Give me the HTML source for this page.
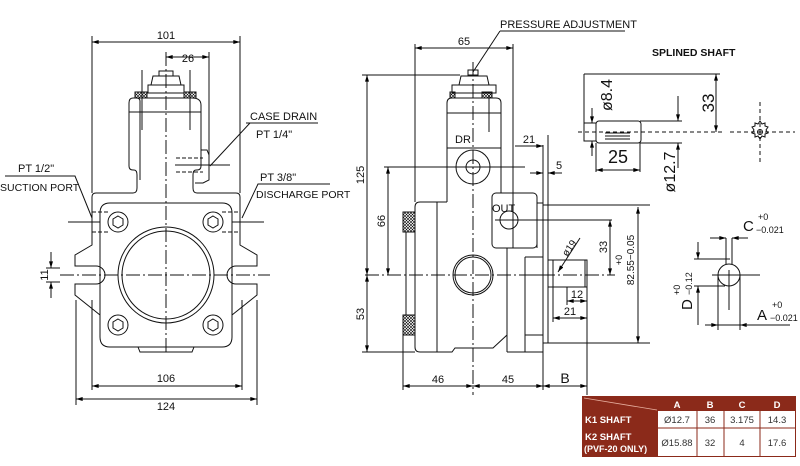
<!DOCTYPE html>
<html><head><meta charset="utf-8"><style>
html,body{margin:0;padding:0;background:#fff;}
svg{display:block;font-family:"Liberation Sans",sans-serif;}
</style></head><body>
<svg width="800" height="466" viewBox="0 0 800 466" xmlns="http://www.w3.org/2000/svg">
<defs>
<marker id="a" viewBox="0 0 10 6" refX="10" refY="3" markerWidth="7" markerHeight="4" orient="auto-start-reverse"><path d="M0,0L10,3L0,6z" fill="#000"/></marker>
<pattern id="kn" width="3" height="3" patternUnits="userSpaceOnUse"><path d="M0,0L3,3M3,0L0,3" stroke="#000" stroke-width="0.6"/></pattern>
</defs>
<g fill="none" stroke="#111" stroke-width="1">
<!-- LEFT VIEW -->
<line x1="92" y1="36" x2="92" y2="193"/><line x1="240" y1="36" x2="240" y2="193"/>
<line x1="92" y1="42" x2="240" y2="42" marker-start="url(#a)" marker-end="url(#a)"/>
<line x1="209" y1="52" x2="209" y2="180"/>
<line x1="166" y1="57" x2="209" y2="57" marker-start="url(#a)" marker-end="url(#a)"/>
<line x1="166" y1="52" x2="166" y2="353" stroke-dasharray="14,3,2,3"/>
<rect x="159" y="71" width="14" height="5"/>
<path d="M151,85 L153,76 L179,76 L181,85 Z"/>
<rect x="148" y="85" width="36" height="8"/>
<rect x="135" y="92" width="12" height="6" fill="url(#kn)"/>
<rect x="184" y="92" width="12" height="6" fill="url(#kn)"/>
<path d="M140,180 L140,101 Q140,98 136,98 L133,98 Q129,98 129,103 L129,166 Q129,170 133,170 L134,170 Q137,170 137,175 L137,188 Q137,193 133,193 L96,193 Q92,193 92,197 L92,245 L75,255 L75,266 L96,266 A9,9 0 0 1 96,284 L75,284 L75,295 L100,315"/>
<path d="M140,98 L192,98 Q201,98 201,105 L201,166 Q201,170 197,170 L196,170 Q193,170 193,175 L193,188 Q193,193 197,193 L236,193 Q240,193 240,197 L240,245 L257,255 L257,266 L236,266 A9,9 0 0 0 236,284 L257,284 L257,295 L232,315"/>
<line x1="129" y1="112" x2="201" y2="112"/>
<line x1="142" y1="70" x2="142" y2="130"/><line x1="190" y1="70" x2="190" y2="130"/>
<path d="M201,150 L207,150 L209,155 L209,180 L203,183 L195,183"/>
<line x1="175" y1="165" x2="230" y2="165"/>
<path d="M110,203 L222,203 Q232,203 232,213 L232,337 Q232,347 222,347 L110,347 Q100,347 100,337 L100,213 Q100,203 110,203 Z"/>
<path d="M138,347 L140,352 L192,352 L194,347"/>
<circle cx="166" cy="275" r="48"/><circle cx="166" cy="275" r="44"/>
<line x1="60" y1="275" x2="270" y2="275" stroke-dasharray="14,3,2,3"/>
<line x1="68" y1="222" x2="100" y2="222"/><line x1="232" y1="222" x2="264" y2="222"/>
<g stroke-dasharray="4,2"><line x1="92" y1="212" x2="110" y2="212"/><line x1="92" y1="232" x2="110" y2="232"/><line x1="222" y1="212" x2="240" y2="212"/><line x1="222" y1="232" x2="240" y2="232"/><line x1="176" y1="158" x2="203" y2="158"/><line x1="176" y1="172" x2="203" y2="172"/></g>
<g>
<circle cx="118" cy="222" r="10"/><path d="M118,216 L123,219 L123,225 L118,228 L113,225 L113,219Z"/>
<circle cx="213" cy="222" r="10"/><path d="M213,216 L218,219 L218,225 L213,228 L208,225 L208,219Z"/>
<circle cx="118" cy="325" r="10"/><path d="M118,319 L123,322 L123,328 L118,331 L113,328 L113,322Z"/>
<circle cx="213" cy="325" r="10"/><path d="M213,319 L218,322 L218,328 L213,331 L208,328 L208,322Z"/>
</g>
<line x1="92" y1="300" x2="92" y2="390"/><line x1="242" y1="300" x2="242" y2="390"/>
<line x1="76" y1="300" x2="76" y2="405"/><line x1="257" y1="300" x2="257" y2="405"/>
<line x1="92" y1="386" x2="242" y2="386" marker-start="url(#a)" marker-end="url(#a)"/>
<line x1="76" y1="399" x2="257" y2="399" marker-start="url(#a)" marker-end="url(#a)"/>
<line x1="46" y1="268" x2="60" y2="268"/><line x1="46" y1="282" x2="60" y2="282"/>
<line x1="51" y1="252" x2="51" y2="268" marker-end="url(#a)"/><line x1="51" y1="298" x2="51" y2="282" marker-end="url(#a)"/>
<!-- leaders -->
<path d="M246,123 L318,123 M250,123 L210,166"/>
<path d="M5,176 L75,176 L92,218"/>
<path d="M330,184 L258,184 L242,218"/>
</g>
<g font-size="11" fill="#111" stroke="none">
<text x="166" y="39" text-anchor="middle">101</text>
<text x="188" y="62" text-anchor="middle">26</text>
<text x="250" y="120">CASE  DRAIN</text>
<text x="256" y="138">PT  1/4"</text>
<text x="18" y="172">PT  1/2"</text>
<text x="0" y="191" font-size="10.5">SUCTION  PORT</text>
<text x="260" y="181">PT  3/8"</text>
<text x="256" y="198" font-size="10.5">DISCHARGE  PORT</text>
<text x="166" y="382" text-anchor="middle">106</text>
<text x="166" y="410" text-anchor="middle">124</text>
<text transform="translate(48,275) rotate(-90)" text-anchor="middle">11</text>
</g>

<!-- SIDE VIEW -->
<g fill="none" stroke="#111" stroke-width="1">
<line x1="415" y1="44" x2="415" y2="202"/><line x1="513" y1="44" x2="513" y2="193"/>
<line x1="415" y1="48" x2="513" y2="48" marker-start="url(#a)" marker-end="url(#a)"/>
<path d="M500,31 L625,31 M500,31 L473,72"/>
<rect x="468" y="70" width="10" height="5"/>
<path d="M459,85 L461,76 L487,76 L489,85 Z"/>
<rect x="452" y="85" width="44" height="8"/>
<rect x="450" y="92" width="5" height="6" fill="url(#kn)"/>
<rect x="482" y="92" width="10" height="6" fill="url(#kn)"/>
<path d="M447,202 L447,103 Q447,98 452,98 L496,98 Q501,98 501,103 L501,193"/>
<line x1="447" y1="113" x2="501" y2="113"/>
<line x1="489" y1="95" x2="489" y2="132"/>
<line x1="447" y1="148" x2="501" y2="148"/>
<circle cx="473" cy="167" r="17"/><circle cx="473" cy="167" r="7"/>
<line x1="384" y1="167" x2="525" y2="167"/>
<line x1="473" y1="62" x2="473" y2="395" stroke-dasharray="14,3,2,3"/>
<path d="M420,202 L447,202 M420,202 Q415,202 415,207 L415,347 Q415,352 420,352 L452,352 L455,348 L493,348 L507,335 L507,248"/>
<line x1="437" y1="202" x2="437" y2="352"/>
<rect x="492" y="193" width="45" height="55" rx="4"/>
<line x1="513" y1="193" x2="513" y2="248"/>
<circle cx="509" cy="220" r="9"/>
<line x1="495" y1="220" x2="612" y2="220"/>
<line x1="507" y1="248" x2="507" y2="352"/>
<path d="M507,352 L525,352 M525,257 L525,352 L543,352 L543,257 L525,257"/>
<line x1="525" y1="275" x2="543" y2="275"/><line x1="525" y1="335" x2="543" y2="335"/>
<path d="M537,203 L543,203 L543,343 M537,203 L537,248"/>
<rect x="543" y="205" width="5" height="138"/>
<line x1="548" y1="205" x2="548" y2="135"/>
<line x1="548" y1="205" x2="650" y2="205"/><line x1="548" y1="343" x2="650" y2="343"/>
<path d="M548,260 L587,260 L587,287 L548,287 M553,260 L553,300 M585,260 L585,287"/>
<line x1="567" y1="287" x2="567" y2="305"/>
<line x1="553" y1="300" x2="553" y2="322"/><line x1="587" y1="287" x2="587" y2="395"/>
<circle cx="473" cy="275" r="20"/><circle cx="473" cy="275" r="18"/>
<line x1="365" y1="275" x2="615" y2="275" stroke-dasharray="14,3,2,3"/>
<rect x="403" y="212" width="12" height="20" fill="url(#kn)"/>
<rect x="403" y="315" width="12" height="20" fill="url(#kn)"/>
<line x1="406" y1="232" x2="406" y2="315"/>
<line x1="362" y1="75" x2="460" y2="75"/><line x1="362" y1="352" x2="415" y2="352"/>
<line x1="367" y1="75" x2="367" y2="275" marker-start="url(#a)" marker-end="url(#a)"/>
<line x1="367" y1="275" x2="367" y2="352" marker-start="url(#a)" marker-end="url(#a)"/>
<line x1="388" y1="167" x2="388" y2="275" marker-start="url(#a)" marker-end="url(#a)"/>
<line x1="403" y1="335" x2="403" y2="390"/><line x1="543" y1="352" x2="543" y2="390"/>
<line x1="403" y1="386" x2="473" y2="386" marker-start="url(#a)" marker-end="url(#a)"/>
<line x1="473" y1="386" x2="543" y2="386" marker-start="url(#a)" marker-end="url(#a)"/>
<line x1="543" y1="386" x2="587" y2="386" marker-start="url(#a)" marker-end="url(#a)"/>
<line x1="543" y1="145" x2="543" y2="203"/>
<line x1="515" y1="146" x2="543" y2="146" marker-end="url(#a)"/>
<line x1="530" y1="173" x2="543" y2="173" marker-end="url(#a)"/><line x1="562" y1="173" x2="548" y2="173" marker-end="url(#a)"/>
<line x1="610" y1="220" x2="610" y2="275" marker-start="url(#a)" marker-end="url(#a)"/>
<line x1="638" y1="207" x2="638" y2="343" marker-start="url(#a)" marker-end="url(#a)"/>
<line x1="567" y1="301" x2="587" y2="301" marker-start="url(#a)" marker-end="url(#a)"/>
<line x1="553" y1="318" x2="587" y2="318" marker-start="url(#a)" marker-end="url(#a)"/>
<line x1="580" y1="238" x2="558" y2="272" marker-end="url(#a)"/>
</g>
<g font-size="11" fill="#111" stroke="none">
<text x="500" y="28">PRESSURE  ADJUSTMENT</text>
<text x="464" y="45" text-anchor="middle">65</text>
<text x="455" y="143">DR</text>
<text x="492" y="212">OUT</text>
<text x="529" y="143" text-anchor="middle">21</text>
<text x="556" y="169">5</text>
<text transform="translate(364,175) rotate(-90)" text-anchor="middle">125</text>
<text transform="translate(385,221) rotate(-90)" text-anchor="middle">66</text>
<text transform="translate(364,314) rotate(-90)" text-anchor="middle">53</text>
<text transform="translate(607,247) rotate(-90)" text-anchor="middle">33</text>
<text transform="translate(622,260) rotate(-90)" text-anchor="middle" font-size="9">+0</text>
<text transform="translate(634,260) rotate(-90)" text-anchor="middle" font-size="10">82.55−0.05</text>
<text transform="translate(572,250) rotate(-55)" text-anchor="middle" font-size="10">ø19</text>
<text x="577" y="298" text-anchor="middle">12</text>
<text x="570" y="315" text-anchor="middle">21</text>
<text x="438" y="383" text-anchor="middle">46</text>
<text x="508" y="383" text-anchor="middle">45</text>
<text x="565" y="383" text-anchor="middle" font-size="14">B</text>
</g>

<!-- SPLINED SHAFT -->
<text x="652" y="56" font-size="10.5" font-weight="bold" fill="#111">SPLINED SHAFT</text>
<g fill="none" stroke="#111" stroke-width="1">
<line x1="584" y1="74" x2="720" y2="74"/><line x1="584" y1="74" x2="584" y2="132"/>
<line x1="716" y1="74" x2="716" y2="132" marker-start="url(#a)" marker-end="url(#a)"/>
<rect x="584" y="123" width="12" height="18"/>
<rect x="596" y="121" width="45" height="22" rx="3"/>
<line x1="605" y1="139" x2="630" y2="139"/><line x1="605" y1="136" x2="630" y2="136"/><line x1="605" y1="133" x2="630" y2="133"/>
<line x1="578" y1="132" x2="722" y2="132" stroke-dasharray="4,3"/>
<line x1="640" y1="121" x2="682" y2="121"/><line x1="640" y1="143" x2="682" y2="143"/>
<line x1="678" y1="96" x2="678" y2="121" marker-end="url(#a)"/><line x1="678" y1="168" x2="678" y2="143" marker-end="url(#a)"/>
<line x1="592" y1="108" x2="592" y2="123" marker-end="url(#a)"/><line x1="592" y1="156" x2="592" y2="141" marker-end="url(#a)"/>
<line x1="596" y1="143" x2="596" y2="172"/><line x1="640" y1="143" x2="640" y2="172"/>
<line x1="596" y1="170" x2="640" y2="170" marker-start="url(#a)" marker-end="url(#a)"/>
<line x1="730" y1="132" x2="795" y2="132" stroke-dasharray="4,3"/>
<line x1="760" y1="102" x2="760" y2="165" stroke-dasharray="4,3"/>
<path d="M760,121 l2,3 3,-1 0,3 3,1 -2,3 2,3 -3,1 0,3 -3,-1 -2,3 -2,-3 -3,1 0,-3 -3,-1 2,-3 -2,-3 3,-1 0,-3 3,1z"/>
<circle cx="760" cy="132" r="2.5"/>
</g>
<g fill="#111" stroke="none">
<text transform="translate(714,103) rotate(-90)" text-anchor="middle" font-size="17">33</text>
<text transform="translate(612,95) rotate(-90)" text-anchor="middle" font-size="16">ø8.4</text>
<text x="618" y="163" text-anchor="middle" font-size="18">25</text>
<text transform="translate(675,172) rotate(-90)" text-anchor="middle" font-size="16">ø12.7</text>
</g>

<!-- KEY SECTION -->
<g fill="none" stroke="#111" stroke-width="1">
<circle cx="729" cy="275" r="11"/>
<path d="M726,264 L726,254 M732,264 L732,254" />
<line x1="726" y1="238" x2="726" y2="254"/><line x1="732" y1="238" x2="732" y2="254"/>
<line x1="710" y1="238" x2="726" y2="238" marker-end="url(#a)"/><line x1="748" y1="238" x2="732" y2="238" marker-end="url(#a)"/>
<line x1="694" y1="259" x2="730" y2="259"/><line x1="694" y1="286" x2="725" y2="286"/>
<line x1="698" y1="242" x2="698" y2="259" marker-end="url(#a)"/><line x1="698" y1="325" x2="698" y2="286" marker-end="url(#a)"/>
<line x1="712" y1="275" x2="760" y2="275"/><line x1="729" y1="270" x2="729" y2="310"/>
<line x1="718" y1="275" x2="718" y2="330"/><line x1="740" y1="275" x2="740" y2="330"/>
<line x1="705" y1="325" x2="718" y2="325" marker-end="url(#a)"/><line x1="760" y1="325" x2="740" y2="325" marker-end="url(#a)"/>
<line x1="718" y1="325" x2="790" y2="325"/>
</g>
<g fill="#111" stroke="none">
<text x="743" y="231" font-size="15">C</text>
<text x="758" y="220" font-size="9">+0</text>
<text x="756" y="233" font-size="9">−0.021</text>
<text transform="translate(692,310) rotate(-90)" font-size="15">D</text>
<text transform="translate(680,295) rotate(-90)" font-size="9">+0</text>
<text transform="translate(692,295) rotate(-90)" font-size="9">−0.12</text>
<text x="757" y="320" font-size="15">A</text>
<text x="772" y="308" font-size="9">+0</text>
<text x="770" y="321" font-size="9">−0.021</text>
</g>

<!-- TABLE -->
<rect x="582" y="396" width="214" height="61" fill="#8b2a1a"/>
<rect x="658" y="411" width="137" height="45" fill="#fff"/>
<g stroke="#8b2a1a" stroke-width="1"><line x1="658" y1="428" x2="795" y2="428"/><line x1="697" y1="411" x2="697" y2="456"/><line x1="724" y1="411" x2="724" y2="456"/><line x1="760" y1="411" x2="760" y2="456"/></g>
<line x1="584" y1="398" x2="657" y2="410" stroke="#e8b0a0" stroke-width="0.8"/>
<g font-size="9.5" font-weight="bold" fill="#fff" text-anchor="middle">
<text x="677" y="408">A</text><text x="710" y="408">B</text><text x="742" y="408">C</text><text x="777" y="408">D</text>
<text x="585" y="423" text-anchor="start">K1 SHAFT</text>
<text x="585" y="440" text-anchor="start">K2 SHAFT</text>
<text x="584" y="452" text-anchor="start" font-size="9">(PVF-20 ONLY)</text>
</g>
<g font-size="9.5" fill="#333" text-anchor="middle">
<text x="677" y="423">Ø12.7</text><text x="710" y="423">36</text><text x="742" y="423">3.175</text><text x="777" y="423">14.3</text>
<text x="677" y="446">Ø15.88</text><text x="710" y="446">32</text><text x="742" y="446">4</text><text x="777" y="446">17.6</text>
</g>
</svg>
</body></html>
